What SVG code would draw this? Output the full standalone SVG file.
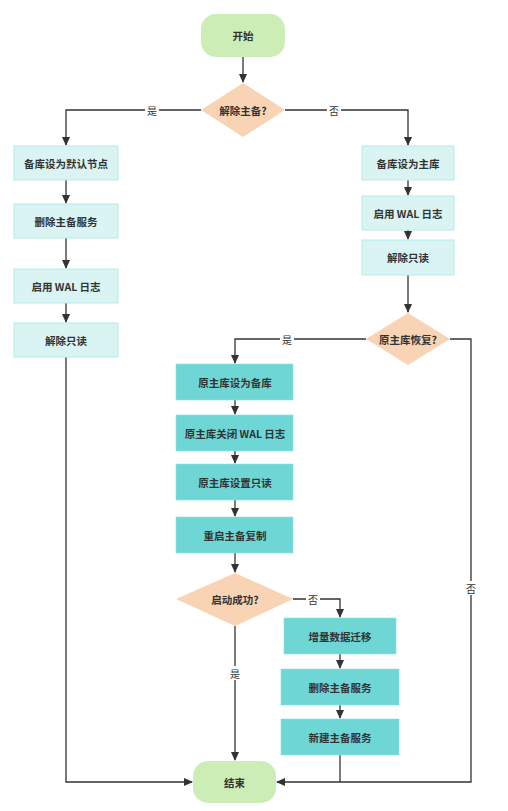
<svg xmlns="http://www.w3.org/2000/svg" width="508" height="811" viewBox="0 0 508 811">
<style>
text{font-family:"Noto Sans CJK SC","Liberation Sans",sans-serif;font-size:10.5px;fill:#333;text-anchor:middle;dominant-baseline:central;font-weight:bold}
.term{fill:#cdedb6}
.dec{fill:#f8d4b4}
.lt{fill:#d9f4f3;stroke:#b3ecea;stroke-width:1}
.tl{fill:#6fd6d6;stroke:#8ee0e0;stroke-width:0.6}
.e{fill:none;stroke:#333;stroke-width:1.3}
.lbl{font-weight:normal;font-size:10px}
.bg{fill:#fff}
</style>
<defs>
<marker id="a" markerWidth="10" markerHeight="10" refX="8" refY="4" orient="auto" markerUnits="userSpaceOnUse">
<path d="M0,0 L9,4 L0,8 z" fill="#333"/>
</marker>
</defs>
<rect width="508" height="811" fill="#fff"/>
<g id="edges">
<path class="e" d="M243,57 V82" marker-end="url(#a)"/>
<path class="e" d="M201,110 H66 V145" marker-end="url(#a)"/>
<path class="e" d="M285,110 H408 V145" marker-end="url(#a)"/>
<path class="e" d="M66,180 V203" marker-end="url(#a)"/>
<path class="e" d="M66,238 V268" marker-end="url(#a)"/>
<path class="e" d="M66,303 V322" marker-end="url(#a)"/>
<path class="e" d="M66,357 V782 H192" marker-end="url(#a)"/>
<path class="e" d="M408,180 V195" marker-end="url(#a)"/>
<path class="e" d="M408,230 V239" marker-end="url(#a)"/>
<path class="e" d="M408,275 V312" marker-end="url(#a)"/>
<path class="e" d="M366,339 H235 V363" marker-end="url(#a)"/>
<path class="e" d="M450,339 H471 V782 H277" marker-end="url(#a)"/>
<path class="e" d="M235,400 V414" marker-end="url(#a)"/>
<path class="e" d="M235,451 V463" marker-end="url(#a)"/>
<path class="e" d="M235,500 V516" marker-end="url(#a)"/>
<path class="e" d="M235,553 V572" marker-end="url(#a)"/>
<path class="e" d="M235,626 V760" marker-end="url(#a)"/>
<path class="e" d="M293,599 H340 V617" marker-end="url(#a)"/>
<path class="e" d="M340,654 V668" marker-end="url(#a)"/>
<path class="e" d="M340,705 V718" marker-end="url(#a)"/>
<path class="e" d="M340,755 V782"/>
<rect class="bg" x="145" y="103" width="14" height="14"/>
<text class="lbl" x="152" y="110">是</text>
<rect class="bg" x="327" y="103" width="14" height="14"/>
<text class="lbl" x="334" y="110">否</text>
<rect class="bg" x="280" y="332" width="14" height="14"/>
<text class="lbl" x="287" y="339">是</text>
<rect class="bg" x="464" y="581" width="14" height="14"/>
<text class="lbl" x="471" y="588">否</text>
<rect class="bg" x="306" y="592" width="14" height="14"/>
<text class="lbl" x="313" y="599">否</text>
<rect class="bg" x="228" y="666" width="14" height="14"/>
<text class="lbl" x="235" y="673">是</text>
</g>
<g id="start"><rect class="term" x="201" y="14" width="84" height="43" rx="15"/><text x="243" y="35.5">开始</text></g>
<g id="d1"><path class="dec" d="M243,83 L285,110 L243,137 L201,110 z"/><text x="243" y="110">解除主备?</text></g>
<g id="l1"><rect class="lt" x="14" y="146" width="104" height="34"/><text x="66" y="163">备库设为默认节点</text></g>
<g id="l2"><rect class="lt" x="14" y="204" width="104" height="34"/><text x="66" y="221">删除主备服务</text></g>
<g id="l3"><rect class="lt" x="14" y="269" width="104" height="34"/><text x="66" y="286">启用 WAL 日志</text></g>
<g id="l4"><rect class="lt" x="14" y="323" width="104" height="34"/><text x="66" y="340">解除只读</text></g>
<g id="r1"><rect class="lt" x="362" y="146" width="92" height="34"/><text x="408" y="163">备库设为主库</text></g>
<g id="r2"><rect class="lt" x="362" y="196" width="92" height="34"/><text x="408" y="213">启用 WAL 日志</text></g>
<g id="r3"><rect class="lt" x="362" y="240" width="92" height="35"/><text x="408" y="257">解除只读</text></g>
<g id="d2"><path class="dec" d="M408,313 L450,339 L408,365 L366,339 z"/><text x="408" y="339">原主库恢复?</text></g>
<g id="m1"><rect class="tl" x="176" y="364" width="117" height="36"/><text x="235" y="382">原主库设为备库</text></g>
<g id="m2"><rect class="tl" x="176" y="415" width="117" height="36"/><text x="235" y="433">原主库关闭 WAL 日志</text></g>
<g id="m3"><rect class="tl" x="176" y="464" width="117" height="36"/><text x="235" y="482">原主库设置只读</text></g>
<g id="m4"><rect class="tl" x="176" y="517" width="117" height="36"/><text x="235" y="535">重启主备复制</text></g>
<g id="d3"><path class="dec" d="M235,573 L293,599 L235,626 L176,599 z"/><text x="235" y="599">启动成功?</text></g>
<g id="n1"><rect class="tl" x="284" y="618" width="112" height="36"/><text x="340" y="636">增量数据迁移</text></g>
<g id="n2"><rect class="tl" x="281" y="669" width="118" height="36"/><text x="340" y="687">删除主备服务</text></g>
<g id="n3"><rect class="tl" x="281" y="719" width="118" height="36"/><text x="340" y="737">新建主备服务</text></g>
<g id="end"><rect class="term" x="193" y="761" width="83" height="42" rx="15"/><text x="234.5" y="782">结束</text></g>
</svg>
